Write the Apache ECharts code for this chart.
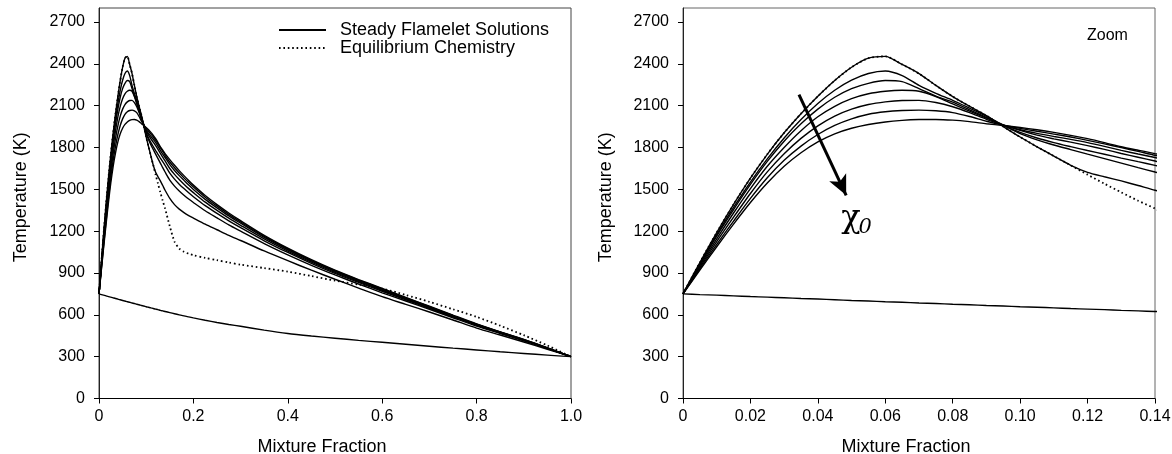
<!DOCTYPE html>
<html>
<head>
<meta charset="utf-8">
<title>Flamelet temperature profiles</title>
<script src="https://cdn.jsdelivr.net/npm/echarts@6/dist/echarts.min.js"></script>
<style>
  html, body { margin: 0; padding: 0; background: #fff; }
  #chart { width: 1172px; height: 454px; }
</style>
</head>
<body>
<div id="chart"></div>
<script>
// Mixture fraction grid shared by every profile (fine near the stoichiometric peak)
const zGrid = [0, 0.005, 0.01, 0.015, 0.02, 0.025, 0.03, 0.035, 0.04, 0.045, 0.05, 0.055, 0.06, 0.065, 0.07,
               0.075, 0.08, 0.085, 0.09, 0.095, 0.10, 0.105, 0.11, 0.115, 0.12, 0.125, 0.13, 0.135, 0.14,
               0.15, 0.16, 0.17, 0.18, 0.19, 0.20, 0.225, 0.25, 0.275, 0.30, 0.35, 0.40, 0.45, 0.50,
               0.55, 0.60, 0.65, 0.70, 0.75, 0.80, 0.85, 0.90, 0.95, 1.00];

// Steady flamelet temperatures (K), ordered by increasing scalar dissipation rate
const flamelet1 = [750, 975, 1190, 1392, 1580, 1751, 1905, 2042, 2167, 2280, 2375, 2440, 2453, 2395, 2330,
                   2245, 2165, 2095, 2028, 1950, 1875, 1805, 1738, 1672, 1622, 1590, 1560, 1527, 1493,
                   1435, 1390, 1358, 1333, 1312, 1294, 1250, 1210, 1170, 1133, 1058, 988, 920, 855,
                   792, 730, 675, 620, 563, 505, 455, 405, 353, 300];
const flamelet2 = [750, 965, 1175, 1370, 1552, 1718, 1868, 2000, 2115, 2210, 2282, 2330, 2348, 2315, 2245,
                   2188, 2138, 2082, 2025, 1960, 1900, 1855, 1818, 1785, 1752, 1720, 1688, 1655, 1624,
                   1566, 1523, 1488, 1458, 1430, 1405, 1346, 1295, 1245, 1200, 1111, 1030, 955, 886,
                   821, 758, 699, 640, 579, 519, 466, 413, 358, 300];
const flamelet3 = [750, 960, 1165, 1355, 1535, 1700, 1845, 1970, 2075, 2160, 2222, 2260, 2280, 2272, 2222,
                   2168, 2125, 2070, 2015, 1958, 1908, 1868, 1835, 1806, 1778, 1751, 1724, 1698, 1672,
                   1616, 1573, 1537, 1505, 1475, 1447, 1383, 1327, 1274, 1225, 1131, 1047, 969, 897,
                   832, 769, 708, 647, 586, 525, 470, 417, 360, 300];
const flamelet4 = [750, 950, 1145, 1330, 1505, 1665, 1800, 1920, 2020, 2095, 2150, 2185, 2203, 2210, 2203,
                   2165, 2112, 2060, 2010, 1962, 1922, 1888, 1862, 1838, 1813, 1786, 1757, 1730, 1703,
                   1649, 1607, 1571, 1537, 1505, 1476, 1408, 1349, 1293, 1242, 1144, 1057, 978, 905,
                   839, 776, 714, 652, 590, 528, 473, 419, 361, 300];
const flamelet5 = [750, 940, 1125, 1300, 1470, 1625, 1755, 1865, 1955, 2025, 2075, 2108, 2127, 2137, 2138,
                   2122, 2092, 2050, 2002, 1960, 1927, 1901, 1879, 1858, 1835, 1808, 1779, 1753, 1728,
                   1677, 1635, 1598, 1564, 1530, 1499, 1428, 1367, 1309, 1257, 1155, 1066, 985, 912,
                   845, 782, 719, 657, 593, 531, 475, 421, 362, 300];
const flamelet6 = [750, 930, 1105, 1272, 1435, 1583, 1708, 1810, 1893, 1958, 2005, 2038, 2056, 2065, 2068,
                   2063, 2050, 2022, 1988, 1960, 1937, 1916, 1896, 1875, 1851, 1826, 1799, 1772, 1744,
                   1696, 1655, 1617, 1582, 1548, 1516, 1443, 1379, 1320, 1266, 1163, 1073, 990, 916,
                   849, 786, 722, 659, 595, 533, 477, 422, 362, 300];
const flamelet7 = [750, 920, 1088, 1250, 1405, 1545, 1665, 1762, 1840, 1898, 1938, 1965, 1983, 1994, 2000,
                   2001, 1996, 1985, 1970, 1957, 1943, 1927, 1908, 1887, 1863, 1835, 1805, 1780, 1756,
                   1713, 1672, 1634, 1598, 1563, 1530, 1455, 1390, 1330, 1275, 1170, 1078, 995, 920,
                   853, 790, 725, 662, 598, 535, 478, 423, 363, 300];

// Extinguished (pure mixing) solution
const mixing = [750, 745, 741, 736, 731, 727, 722, 717, 713, 708, 703, 699, 694, 690, 685,
                681, 676, 672, 667, 663, 658, 654, 650, 645, 641, 637, 632, 628, 624,
                616, 608, 600, 592, 585, 578, 561, 545, 531, 518, 490, 466, 448, 432,
                417, 403, 389, 375, 361, 348, 335, 323, 311, 300];

// Equilibrium chemistry temperature
const equilibrium = [750, 975, 1190, 1392, 1580, 1751, 1905, 2042, 2167, 2280, 2375, 2440, 2453, 2395, 2330,
                     2245, 2165, 2095, 2028, 1950, 1875, 1805, 1738, 1672, 1605, 1540, 1478, 1418, 1362,
                     1235, 1125, 1075, 1052, 1038, 1028, 1008, 992, 975, 960, 935, 910, 878, 845,
                     817, 788, 742, 693, 640, 585, 522, 454, 380, 300];

// Axis ticks and labels
const tempTicks = [0, 300, 600, 900, 1200, 1500, 1800, 2100, 2400, 2700];
const fullTicks = [0, 0.2, 0.4, 0.6, 0.8, 1.0];
const fullTickLabels = ['0', '0.2', '0.4', '0.6', '0.8', '1.0'];
const zoomTicks = [0, 0.02, 0.04, 0.06, 0.08, 0.10, 0.12, 0.14];
const zoomTickLabels = ['0', '0.02', '0.04', '0.06', '0.08', '0.10', '0.12', '0.14'];

// Annotation in the zoomed panel: arrow of increasing chi_0 and its label
const chiArrow = [[0.0344, 2179], [0.0484, 1457]];
const chiSymbolAt = [0.0498, 1290];
const chiSubscriptAt = [0.0540, 1226];

const flamelets = [flamelet1, flamelet2, flamelet3, flamelet4, flamelet5, flamelet6, flamelet7, mixing];
const FONT = 'Liberation Sans, Arial, Helvetica, sans-serif';
const SERIF = 'DejaVu Serif, Liberation Serif, Times New Roman, serif';
const SOLID = 'Steady Flamelet Solutions';
const EQUIL = 'Equilibrium Chemistry';

function pairs(values) {
  return zGrid.map((z, i) => [z, values[i]]);
}

function labelFrom(ticks, labels) {
  return function (v) {
    const i = ticks.findIndex(t => Math.abs(t - v) < 1e-9);
    return i >= 0 ? labels[i] : '';
  };
}

const gridTop = 8, gridHeight = 390.5, gridWidth = 472;

function xAxisFor(gridIndex, max, interval, ticks, labels) {
  return {
    gridIndex, type: 'value', min: 0, max, interval,
    axisLine: { show: true, onZero: false, lineStyle: { color: '#000', width: 1 } },
    axisTick: { show: true, inside: false, length: 5, customValues: ticks, lineStyle: { color: '#000', width: 1 } },
    axisLabel: { customValues: ticks, formatter: labelFrom(ticks, labels), fontSize: 16, color: '#000', margin: 10, fontFamily: FONT },
    splitLine: { show: false },
    name: 'Mixture Fraction', nameLocation: 'middle', nameGap: 40,
    nameTextStyle: { fontSize: 18, color: '#000', fontFamily: FONT, padding: [0, 26, 0, 0] }
  };
}

function yAxisFor(gridIndex, gap) {
  return {
    gridIndex, type: 'value', min: 0, max: 2800, interval: 300,
    axisLine: { show: true, onZero: false, lineStyle: { color: '#222', width: 1 } },
    axisTick: { show: true, inside: false, length: 5, customValues: tempTicks, lineStyle: { color: '#000', width: 1 } },
    axisLabel: { customValues: tempTicks, formatter: v => String(v), fontSize: 16, color: '#000', margin: 14, fontFamily: FONT },
    splitLine: { show: false },
    name: 'Temperature (K)', nameLocation: 'middle', nameGap: gap,
    nameTextStyle: { fontSize: 18, color: '#000', fontFamily: FONT, padding: [0, 0, 0, 12] }
  };
}

function seriesFor(idx) {
  const list = flamelets.map(vals => ({
    name: SOLID, type: 'line', xAxisIndex: idx, yAxisIndex: idx,
    data: pairs(vals), smooth: 0.25, symbol: 'none', clip: true, silent: true,
    itemStyle: { color: '#000' },
    lineStyle: { color: '#000', width: 1.4 }, z: 2
  }));
  list.push({
    name: EQUIL, type: 'line', xAxisIndex: idx, yAxisIndex: idx,
    data: pairs(equilibrium), smooth: 0.25, symbol: 'none', clip: true, silent: true,
    itemStyle: { color: '#000' },
    lineStyle: { color: '#000', width: 1.8, type: [1.6, 2.8] }, z: 3
  });
  return list;
}

const series = seriesFor(0).concat(seriesFor(1));

// Arrow and chi_0 label drawn in the zoomed panel
series.push({
  type: 'line', xAxisIndex: 1, yAxisIndex: 1, data: [], silent: true, symbol: 'none',
  markLine: {
    silent: true, symbol: ['none', 'arrow'], symbolSize: [14, 20],
    lineStyle: { color: '#000', width: 3, type: 'solid' },
    label: { show: false },
    data: [[{ coord: chiArrow[0] }, { coord: chiArrow[1] }]]
  },
  markPoint: {
    silent: true, symbol: 'circle', symbolSize: 0,
    data: [
      { coord: chiSymbolAt, label: { show: true, position: 'inside', formatter: 'χ',
          fontSize: 32, fontFamily: SERIF, color: '#000' } },
      { coord: chiSubscriptAt, label: { show: true, position: 'inside', formatter: '0',
          fontSize: 21, fontFamily: SERIF, fontStyle: 'italic', color: '#000' } }
    ]
  }
});

const chart = echarts.init(document.getElementById('chart'), null, { renderer: 'canvas' });
chart.setOption({
  backgroundColor: '#fff',
  animation: false,
  textStyle: { fontFamily: FONT },
  title: {
    text: 'Zoom', left: 1087, top: 28, padding: 0,
    textStyle: { fontSize: 16, fontWeight: 'normal', color: '#000', fontFamily: FONT }
  },
  legend: {
    orient: 'vertical', left: 278, top: 21, padding: 0,
    itemWidth: 47, itemHeight: 10, itemGap: 0,
    data: [SOLID, EQUIL],
    itemStyle: { opacity: 0 },
    textStyle: { fontSize: 18, color: '#000', lineHeight: 18, fontFamily: FONT, padding: [0, 0, 0, 9] },
    selectedMode: false
  },
  grid: [
    { left: 99, top: gridTop, width: gridWidth, height: gridHeight, outerBoundsMode: 'none', containLabel: false,
      show: true, borderColor: '#444', borderWidth: 1, backgroundColor: 'transparent' },
    { left: 683, top: gridTop, width: gridWidth, height: gridHeight, outerBoundsMode: 'none', containLabel: false,
      show: true, borderColor: '#666', borderWidth: 1, backgroundColor: 'transparent' }
  ],
  xAxis: [
    xAxisFor(0, 1, 0.2, fullTicks, fullTickLabels),
    xAxisFor(1, 0.14, 0.02, zoomTicks, zoomTickLabels)
  ],
  yAxis: [yAxisFor(0, 69), yAxisFor(1, 68)],
  series
});
</script>
</body>
</html>
